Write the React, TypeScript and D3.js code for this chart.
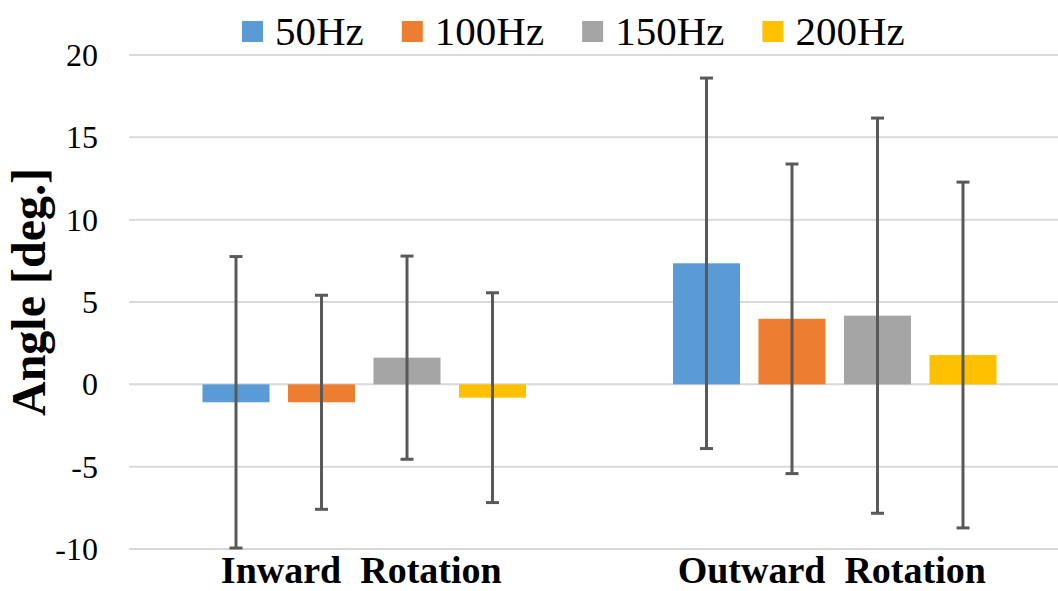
import React, { useEffect, useRef } from "react";
import * as d3 from "d3";

// Rotation categories and frequency series
const categories = ["Inward  Rotation", "Outward  Rotation"];
const seriesNames = ["50Hz", "100Hz", "150Hz", "200Hz"];
const seriesColors = ["#5B9BD5", "#ED7D31", "#A5A5A5", "#FFC000"];

// Mean angle per category for each frequency (deg.)
const mean50 = [-1.09, 7.35];
const mean100 = [-1.09, 3.98];
const mean150 = [1.62, 4.17];
const mean200 = [-0.81, 1.78];

// Standard deviation per category for each frequency (deg.)
const sd50 = [8.85, 11.25];
const sd100 = [6.5, 9.4];
const sd150 = [6.17, 12.0];
const sd200 = [6.37, 10.5];

const yTicks = [-10, -5, 0, 5, 10, 15, 20];

const W = 1058;
const H = 591;
const FONT = "'Liberation Serif', 'Times New Roman', Times, serif";

export default function App() {
  const ref = useRef<SVGSVGElement | null>(null);

  useEffect(() => {
    const svg = d3.select(ref.current);
    svg.selectAll("*").remove();

    const means = [mean50, mean100, mean150, mean200];
    const sds = [sd50, sd100, sd150, sd200];

    const y = d3.scaleLinear().domain([-10, 20]).range([549, 55]);
    const x0 = d3.scaleBand<string>().domain(categories).range([129, 1070]).padding(0);
    const groupHalf = 171;
    const x1 = d3
      .scaleBand<string>()
      .domain(seriesNames)
      .range([x0.bandwidth() / 2 - groupHalf, x0.bandwidth() / 2 + groupHalf])
      .paddingInner(0.216)
      .paddingOuter(0.108);

    // Gridlines
    svg
      .append("g")
      .selectAll("line")
      .data(yTicks)
      .join("line")
      .attr("x1", 129)
      .attr("x2", W)
      .attr("y1", (d) => y(d))
      .attr("y2", (d) => y(d))
      .attr("stroke", "#d9d9d9")
      .attr("stroke-width", 2);

    // Y tick labels
    svg
      .append("g")
      .selectAll("text")
      .data(yTicks)
      .join("text")
      .attr("x", 98)
      .attr("y", (d) => y(d))
      .attr("dy", "0.34em")
      .attr("text-anchor", "end")
      .attr("font-family", FONT)
      .attr("font-size", 32)
      .attr("fill", "#000")
      .text((d) => String(d));

    // Y axis title
    svg
      .append("text")
      .attr("transform", "translate(45,292) rotate(-90)")
      .attr("text-anchor", "middle")
      .attr("font-family", FONT)
      .attr("font-weight", "bold")
      .attr("font-size", 48)
      .attr("fill", "#000")
      .text("Angle [deg.]");

    // Bars
    seriesNames.forEach((name, si) => {
      const g = svg.append("g");
      categories.forEach((cat, ci) => {
        const v = means[si][ci];
        const bx = (x0(cat) as number) + (x1(name) as number);
        g.append("rect")
          .attr("x", bx)
          .attr("width", x1.bandwidth())
          .attr("y", y(Math.max(0, v)))
          .attr("height", Math.abs(y(v) - y(0)))
          .attr("fill", seriesColors[si]);
      });
    });

    // Error bars
    seriesNames.forEach((name, si) => {
      const g = svg.append("g").attr("stroke", "#595959").attr("stroke-width", 3);
      categories.forEach((cat, ci) => {
        const v = means[si][ci];
        const s = sds[si][ci];
        const cx = (x0(cat) as number) + (x1(name) as number) + x1.bandwidth() / 2;
        const hi = y(v + s);
        const lo = y(v - s);
        g.append("line").attr("x1", cx).attr("x2", cx).attr("y1", hi).attr("y2", lo);
        g.append("line").attr("x1", cx - 6.5).attr("x2", cx + 6.5).attr("y1", hi).attr("y2", hi);
        g.append("line").attr("x1", cx - 6.5).attr("x2", cx + 6.5).attr("y1", lo).attr("y2", lo);
      });
    });

    // Category labels
    svg
      .append("g")
      .selectAll("text")
      .data(categories)
      .join("text")
      .attr("x", (d) => (x0(d) as number) + x0.bandwidth() / 2 - 3)
      .attr("y", 582.5)
      .attr("text-anchor", "middle")
      .attr("font-family", FONT)
      .attr("font-weight", "bold")
      .attr("font-size", 38)
      .attr("fill", "#000")
      .style("white-space", "pre")
      .text((d) => d);

    // Legend
    const legend = svg.append("g");
    let lx = 242;
    seriesNames.forEach((name, si) => {
      legend
        .append("rect")
        .attr("x", lx)
        .attr("y", 21)
        .attr("width", 21)
        .attr("height", 21)
        .attr("fill", seriesColors[si]);
      const t = legend
        .append("text")
        .attr("x", lx + 33)
        .attr("y", 45)
        .attr("font-family", FONT)
        .attr("font-size", 41)
        .attr("fill", "#000")
        .text(name);
      const tw = (t.node() as SVGTextElement).getComputedTextLength();
      lx = lx + 33 + tw + 38;
    });
  }, []);

  return (
    <svg
      ref={ref}
      width={W}
      height={H}
      style={{ position: "absolute", left: 0, top: 0, background: "#fff" }}
    />
  );
}
